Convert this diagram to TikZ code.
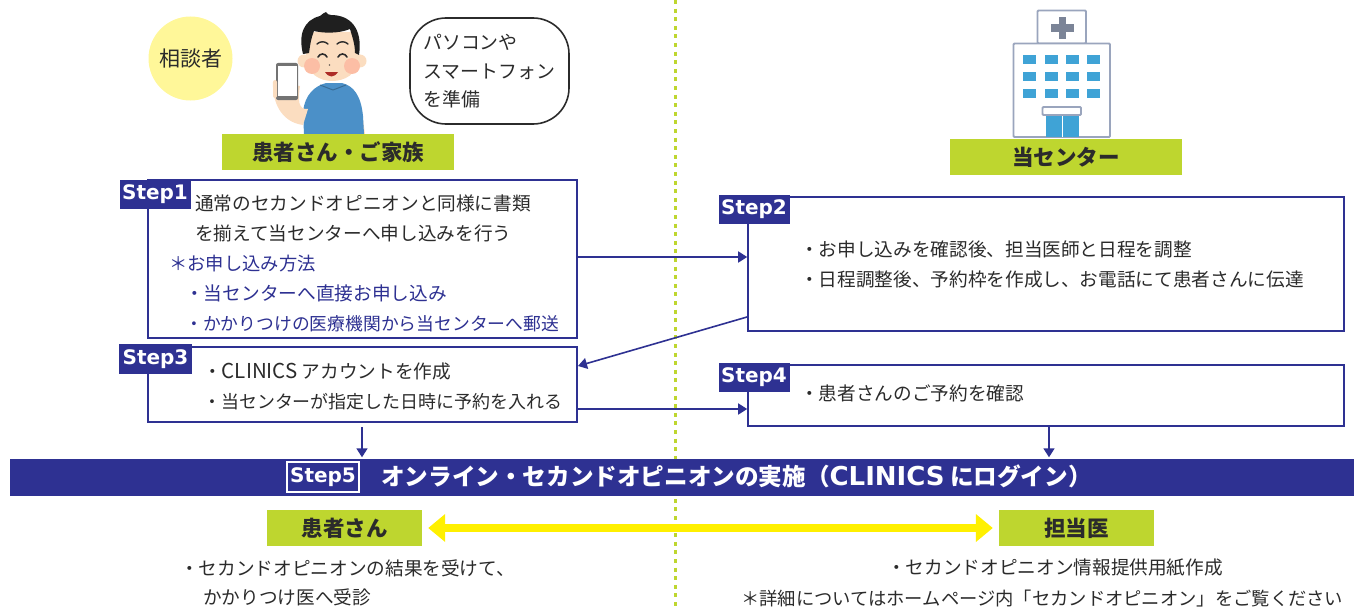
\documentclass[tikz,border=0pt]{standalone}
\usepackage{fontspec}
\setmainfont{Noto Sans CJK JP}
\newfontfamily\stepfont{DejaVu Sans}
\usetikzlibrary{arrows.meta,calc}
\definecolor{navy}{HTML}{2E3192}
\definecolor{leaf}{HTML}{BED62F}
\definecolor{ink}{HTML}{2B2B2B}
\definecolor{cream}{HTML}{FFF799}
\definecolor{sun}{HTML}{FFF000}
\definecolor{shirt}{HTML}{4B90C8}
\definecolor{skin}{HTML}{FBDDC0}
\definecolor{wall}{HTML}{9AA5BD}
\definecolor{pane}{HTML}{3FA3D6}
\newcommand{\fs}[1]{\fontsize{#1}{#1}\selectfont}
\tikzset{
  x=1pt,y=-1pt,
  body/.style={font=\fs{#1},text=ink,anchor=base west,inner sep=0pt},
  body/.default=18.65,
  note/.style={font=\fs{#1},text=navy,anchor=base west,inner sep=0pt},
  panel/.style={draw=navy,line width=1.6pt,fill=white,minimum width=#1,inner sep=0pt},
  tag/.style={fill=navy,text=white,font=\stepfont\bfseries\fs{20},inner sep=0pt,minimum height=29pt,minimum width=71pt},
  label/.style={fill=leaf,text=ink,font=\bfseries\fs{21.5},inner sep=0pt,minimum height=36pt,minimum width=#1},
  link/.style={draw=navy,line width=1.6pt,-{Triangle[length=9pt,width=11pt]}},
}
\begin{document}
\begin{tikzpicture}
\useasboundingbox (0,0) rectangle (1370,610);

% centre divider
\coordinate (divtop) at (675.5,0);
\coordinate (divbot) at (675.5,610);
\draw[leaf,line width=3pt,dash pattern=on 4pt off 4.6pt] (divtop) -- (divbot);

% consultee badge and speech bubble
\node[circle,fill=cream,minimum size=84pt,inner sep=0pt,font=\fs{21},text=ink] (who) at (190.5,58.5) {相談者};
\node[draw=ink,line width=1.6pt,rounded corners=36pt,fill=white,minimum width=159pt,minimum height=106pt,inner sep=0pt] (bubble) at (489.5,71) {};
\node[body=18.9] (b1) at (423,49) {パソコンや};
\node[body=18.9] (b2) at (423,78) {スマートフォン};
\node[body=18.9] (b3) at (423,106) {を準備};

% person holding a smartphone
\begin{scope}
  \fill[skin] (355,134) -- (362,112) -- (365,134) -- cycle;
  \fill[shirt] (304,134) -- (303,112) .. controls (305,94) and (315,86) .. (326,83) -- (342,83) .. controls (354,86) and (361,96) .. (363,116) -- (364,134) -- cycle;
  \fill[skin] (273,82) .. controls (272,100) and (280,122) .. (303,125) -- (308,109) .. controls (298,110) and (298,100) .. (300,86) -- cycle;
  \fill[skin] (307,32) -- (357,32) -- (358,60) .. controls (357,74) and (345,81) .. (332,81) .. controls (320,81) and (308,74) .. (306,60) -- cycle;
  \fill[skin] (304,61) circle[radius=6.5];
  \fill[skin] (360,61) circle[radius=6.5];
  \fill[red!14!skin] (312,66) circle[radius=8];
  \fill[red!14!skin] (352,66) circle[radius=8];
  \fill[black!88] (303,54) .. controls (298,34) and (304,20) .. (320,16) .. controls (322,14) and (324,13) .. (326,12) .. controls (327,14) and (329,15) .. (331,15) .. controls (350,15) and (363,28) .. (359,55) -- (355,53) .. controls (355,44) and (352,36) .. (350,29) .. controls (338,34) and (322,33) .. (314,31) .. controls (311,38) and (310,46) .. (309,53) -- cycle;
  \draw[ink,line width=1.4pt,line cap=round] (317,44) .. controls (320,41) and (325,41) .. (328,44);
  \draw[ink,line width=1.4pt,line cap=round] (337,44) .. controls (340,41) and (345,41) .. (348,44);
  \draw[ink,line width=1.6pt,line cap=round] (318,57) .. controls (320,53) and (325,53) .. (327,57);
  \draw[ink,line width=1.6pt,line cap=round] (338,57) .. controls (340,53) and (345,53) .. (347,57);
  \fill[ink!70!skin] (329.5,65) circle[radius=.9];
  \fill[red!60!black!80!skin] (325,72) .. controls (329,78) and (334,78) .. (338,72) -- cycle;
  \draw[shirt!75!black,line width=1pt] (320,85) -- (333,90) -- (346,85);
  \fill[black!55,rounded corners=2pt] (276,63) rectangle (298,100);
  \fill[white] (277.5,66) rectangle (296.5,96);
  \fill[skin,rounded corners=2pt] (273,80) rectangle (277,98);
\end{scope}

% hospital building
\begin{scope}
  \draw[wall,line width=1.8pt,fill=white,rounded corners=1pt] (1037.5,10.5) rectangle (1086,43.5);
  \fill[wall!80!black] (1058.5,17) rectangle (1066,39);
  \fill[wall!80!black] (1051,24.5) rectangle (1073.5,32);
  \draw[wall,line width=1.8pt,fill=white,rounded corners=1pt] (1013.5,43.5) rectangle (1110,137);
  \foreach \wx in {1023,1044.5,1066,1087}
    \foreach \wy in {55,72,89}
      \fill[pane] (\wx,\wy) rectangle ++(13,9);
  \fill[pane] (1046,115) rectangle (1079,137);
  \draw[white,line width=.8pt] (1062.5,115) -- (1062.5,137);
  \draw[wall,line width=1.8pt,fill=white,rounded corners=1pt] (1042.5,107) rectangle (1081,115);
\end{scope}

% party labels
\node[label=232pt] (family) at (338,152) {患者さん・ご家族};
\node[label=232pt] (centre) at (1066,157) {当センター};

% step panels
\node[panel=429pt,minimum height=158pt] (s1) at (362.5,259) {};
\node[panel=596pt,minimum height=134pt] (s2) at (1046,264) {};
\node[panel=429pt,minimum height=75pt] (s3) at (362.5,384.5) {};
\node[panel=596pt,minimum height=61pt] (s4) at (1046,395.5) {};

\node[tag] (t1) at (155,194.5) {Step1};
\node[tag] (t2) at (754,209.5) {Step2};
\node[tag,minimum height=30pt,minimum width=73pt] (t3) at (155.5,359) {Step3};
\node[tag] (t4) at (754,377.5) {Step4};

% step 1 text
\node[body] (l1) at (195,210.5) {通常のセカンドオピニオンと同様に書類};
\node[body] (l2) at (195,240.5) {を揃えて当センターへ申し込みを行う};
\node[note=18.3] (l3) at (169,270) {＊お申し込み方法};
\node[note=18.7] (l4) at (185,300) {・当センターへ直接お申し込み};
\node[note=17.8] (l5) at (185,330) {・かかりつけの医療機関から当センターへ郵送};

% step 2 text
\node[body] (r1) at (800,256) {・お申し込みを確認後、担当医師と日程を調整};
\node[body] (r2) at (800,286) {・日程調整後、予約枠を作成し、お電話にて患者さんに伝達};

% step 3 text
\node[body=18.65] (m1) at (203,378) {・{\fs{20.5}CLINICS} アカウントを作成};
\node[body=17.95] (m2) at (203,408) {・当センターが指定した日時に予約を入れる};

% step 4 text
\node[body] (q1) at (800,400) {・患者さんのご予約を確認};

% session band
\node[fill=navy,minimum width=1344pt,minimum height=37pt,inner sep=0pt] (band) at (682,477.5) {};
\node[draw=white,line width=1.4pt,text=white,font=\stepfont\bfseries\fs{20},minimum width=72pt,minimum height=30pt,inner sep=0pt] (t5) at (323,477) {Step5};
\node[text=white,font=\bfseries\fs{23.6},anchor=base west,inner sep=0pt] (bandtext) at (381,485.5) {オンライン・セカンドオピニオンの実施（{\stepfont\fs{26}CLINICS} にログイン）};

% connectors between steps
\coordinate (a1) at (0,257);
\coordinate (a3) at (0,409);
\coordinate (d3) at (362,0);
\coordinate (d4) at (1049,0);
\coordinate (from2) at (747,317);
\coordinate (to3) at (578,366);
\draw[link] (s1.east |- a1) -- (s2.west |- a1);
\draw[link] (from2) -- (to3);
\draw[link] (s3.east |- a3) -- (s4.west |- a3);
\draw[link,shorten <=4pt,shorten >=1.5pt] (s3.south -| d3) -- (band.north -| d3);
\draw[link,shorten >=1.5pt] (s4.south -| d4) -- (band.north -| d4);

% parties in the session
\node[label=155pt] (pat) at (344.5,528) {患者さん};
\node[label=155pt] (doc) at (1076.5,528) {担当医};
\draw[sun,line width=8pt,{Triangle[length=17pt,width=27pt]}-{Triangle[length=17pt,width=27pt]},shorten <=6pt,shorten >=6pt] (pat.east) -- (doc.west);

% closing notes
\node[body] (e1) at (180,575) {・セカンドオピニオンの結果を受けて、};
\node[body] (e2) at (203,604.5) {かかりつけ医へ受診};
\node[body] (f1) at (887,574.5) {・セカンドオピニオン情報提供用紙作成};
\node[body=18.3] (f2) at (741,605) {＊詳細についてはホームページ内「セカンドオピニオン」をご覧ください};
\end{tikzpicture}
\end{document}
